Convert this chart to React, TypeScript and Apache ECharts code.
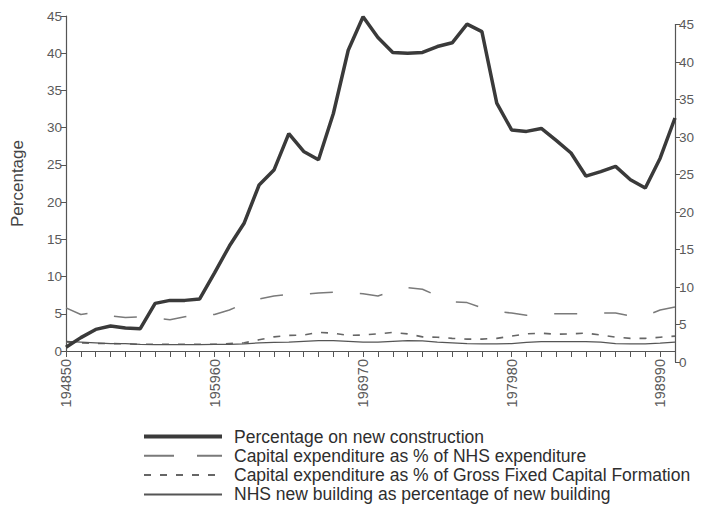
import React, { useEffect, useRef } from "react";
import * as echarts from "echarts";

const years: string[] = [
  "1949", "1950", "1951", "1952", "1953", "1954", "1955", "1956", "1957", "1958",
  "1959", "1960", "1961", "1962", "1963", "1964", "1965", "1966", "1967", "1968",
  "1969", "1970", "1971", "1972", "1973", "1974", "1975", "1976", "1977", "1978",
  "1979", "1980", "1981", "1982", "1983", "1984", "1985", "1986", "1987", "1988",
  "1989", "1990",
];
const xTickLabels: string[] = ["194850", "195960", "196970", "197980", "198990"];
const yTicks: number[] = [0, 5, 10, 15, 20, 25, 30, 35, 40, 45];

const seriesNames: string[] = [
  "Percentage on new construction",
  "Capital expenditure as % of NHS expenditure",
  "Capital expenditure as % of Gross Fixed Capital Formation",
  "NHS new building as percentage of new building",
];

const newConstruction: number[] = [
  0.5, 1.8, 2.9, 3.35, 3.1, 3.0, 6.4, 6.8, 6.8, 7.0,
  10.5, 14.1, 17.2, 22.3, 24.3, 29.2, 26.8, 25.7, 31.9, 40.4,
  44.9, 42.1, 40.1, 40.0, 40.1, 40.9, 41.4, 43.9, 42.9, 33.3,
  29.7, 29.5, 29.9, 28.3, 26.6, 23.5, 24.1, 24.8, 23.0, 21.9,
  25.9, 31.3,
];
const capexNhs: number[] = [
  5.8, 4.9, 5.2, 4.7, 4.5, 4.6, 4.4, 4.2, 4.6, 5.0,
  4.9, 5.5, 6.4, 7.0, 7.4, 7.6, 7.6, 7.8, 7.9, 7.8,
  7.7, 7.4, 8.0, 8.5, 8.3, 7.4, 6.6, 6.5, 5.8, 5.3,
  5.1, 4.8, 5.0, 5.0, 5.0, 5.0, 5.1, 5.1, 4.7, 4.7,
  5.5, 5.9,
];
const capexGfcf: number[] = [
  1.2, 1.1, 1.0, 1.0, 0.95, 0.9, 0.9, 0.9, 0.9, 0.9,
  0.9, 1.0, 1.1, 1.5, 1.9, 2.1, 2.15, 2.5, 2.4, 2.1,
  2.15, 2.3, 2.5, 2.3, 1.9, 1.85, 1.7, 1.6, 1.6, 1.7,
  2.0, 2.3, 2.4, 2.25, 2.3, 2.4, 2.15, 1.85, 1.7, 1.7,
  1.85, 2.0,
];
const nhsNewBuilding: number[] = [
  1.3, 1.2, 1.1, 1.0, 1.0, 0.9, 0.85, 0.85, 0.85, 0.85,
  0.9, 0.9, 0.95, 1.1, 1.15, 1.2, 1.3, 1.4, 1.4, 1.3,
  1.2, 1.2, 1.3, 1.4, 1.35, 1.2, 1.1, 1.0, 0.95, 0.95,
  1.0, 1.15, 1.25, 1.25, 1.25, 1.25, 1.2, 1.0, 0.95, 0.95,
  1.05, 1.2,
];

const FONT = "'Liberation Sans', Arial, Helvetica, sans-serif";
const AXIS = "#555";
const LABEL = "#5a5a5a";

export default function App() {
  const ref = useRef<HTMLDivElement>(null);
  useEffect(() => {
    if (!ref.current) return;
    const chart = echarts.init(ref.current, undefined, { renderer: "svg" });
    const yMin = yTicks[0];
    const yMax = yTicks[yTicks.length - 1];
    const step = yTicks[1] - yTicks[0];
    chart.setOption({
      animation: false,
      backgroundColor: "#fff",
      textStyle: { fontFamily: FONT },
      grid: [
        { left: 66, right: 35, top: 16, height: 335 },
        { left: 66, right: 35, top: 24.5, height: 337.5 },
      ],
      legend: {
        orient: "vertical",
        left: 142,
        top: 427,
        padding: 0,
        itemWidth: 78,
        itemHeight: 14,
        itemGap: 0.3,
        selectedMode: false,
        itemStyle: { opacity: 0 },
        textStyle: {
          fontFamily: FONT,
          fontSize: 17.5,
          lineHeight: 19,
          color: "#2e2e2e",
          padding: [0, 0, 0, 7],
        },
        data: [
          { name: seriesNames[0], lineStyle: { width: 4 } },
          { name: seriesNames[1], lineStyle: { type: [30, 23] } },
          { name: seriesNames[2] },
          { name: seriesNames[3] },
        ],
      },
      xAxis: [
        {
          type: "category",
          gridIndex: 0,
          data: years,
          boundaryGap: false,
          axisLine: { lineStyle: { color: AXIS, width: 1.2 } },
          axisTick: { interval: 0, length: 6, lineStyle: { color: AXIS } },
          axisLabel: {
            interval: 0,
            rotate: 90,
            margin: 8,
            color: LABEL,
            fontSize: 14.5,
            fontFamily: FONT,
            formatter: (_v: string, i: number) =>
              i % 10 === 0 ? xTickLabels[i / 10] ?? "" : "",
          },
          splitLine: { show: false },
        },
        {
          type: "category",
          gridIndex: 1,
          data: years,
          boundaryGap: false,
          show: false,
        },
      ],
      yAxis: [
        {
          type: "value",
          gridIndex: 0,
          min: yMin,
          max: yMax,
          interval: step,
          name: "Percentage",
          nameLocation: "middle",
          nameGap: 40,
          nameTextStyle: { color: "#444", fontSize: 17, fontFamily: FONT },
          axisLine: { show: true, lineStyle: { color: AXIS, width: 1.2 } },
          axisTick: { show: true, length: 5, lineStyle: { color: AXIS } },
          axisLabel: { color: LABEL, fontSize: 13.5, fontFamily: FONT, margin: 4 },
          splitLine: { show: false },
        },
        {
          type: "value",
          gridIndex: 1,
          position: "right",
          min: yMin,
          max: yMax,
          interval: step,
          axisLine: { show: true, lineStyle: { color: AXIS, width: 1.2 } },
          axisTick: { show: true, length: 5, lineStyle: { color: AXIS } },
          axisLabel: { color: LABEL, fontSize: 13.5, fontFamily: FONT, margin: 4 },
          splitLine: { show: false },
        },
      ],
      series: [
        {
          name: seriesNames[0],
          type: "line",
          data: newConstruction,
          symbol: "none",
          z: 5,
          lineStyle: { color: "#3a3a3a", width: 3.5 },
          itemStyle: { color: "#3a3a3a" },
        },
        {
          name: seriesNames[1],
          type: "line",
          data: capexNhs,
          symbol: "none",
          lineStyle: { color: "#7a7a7a", width: 1.5, type: [23, 27] },
          itemStyle: { color: "#7a7a7a" },
        },
        {
          name: seriesNames[2],
          type: "line",
          data: capexGfcf,
          symbol: "none",
          lineStyle: { color: "#666", width: 1.6, type: [7, 9] },
          itemStyle: { color: "#666" },
        },
        {
          name: seriesNames[3],
          type: "line",
          data: nhsNewBuilding,
          symbol: "none",
          lineStyle: { color: "#555", width: 1.3 },
          itemStyle: { color: "#555" },
        },
      ],
    });
    return () => chart.dispose();
  }, []);
  return <div ref={ref} style={{ width: 710, height: 515, margin: -8 }} />;
}
